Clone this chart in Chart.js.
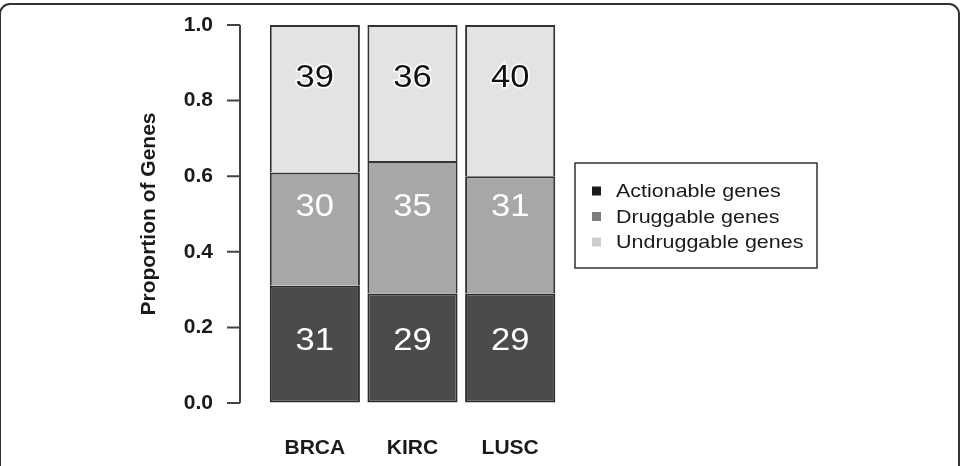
<!DOCTYPE html>
<html>
<head>
<meta charset="utf-8">
<script src="https://cdn.jsdelivr.net/npm/chart.js@4.4.1/dist/chart.umd.min.js"></script>
<style>
  html, body { margin: 0; padding: 0; background: #fff; overflow: hidden; }
  #wrap { position: relative; width: 961px; height: 466px; }
  #frame {
    position: absolute; left: -1px; top: 3px; width: 961px; height: 490px;
    border: 2px solid #333; border-radius: 11px; box-sizing: border-box; pointer-events: none;
  }
  #chart { position: absolute; left: 0; top: 0; }
</style>
</head>
<body>
<div id="wrap">
  <canvas id="chart" width="961" height="466"></canvas>
  <div id="frame"></div>
</div>
<script>
// Data <---------------------------------------------------->
const categories = ['BRCA', 'KIRC', 'LUSC'];
const actionable = [31, 29, 29];   // % of genes
const druggable = [30, 35, 31];
const undruggable = [39, 36, 40];
const yTickLabels = ['0.0', '0.2', '0.4', '0.6', '0.8', '1.0'];

const FONT = '"Liberation Sans", Arial, Helvetica, sans-serif';

// R-style y axis: line from 0 to 1 with ticks, sitting left of the bars
const rAxis = {
    id: 'rAxis',
    afterDraw(chart) {
        const ctx = chart.ctx;
        const y = chart.scales.y;
        const x = chart.chartArea.left - 26; // axis line
        ctx.save();
        ctx.strokeStyle = '#444';
        ctx.lineWidth = 2;
        ctx.beginPath();
        ctx.moveTo(x, y.getPixelForValue(0));
        ctx.lineTo(x, y.getPixelForValue(100));
        y.ticks.forEach(t => {
            const py = y.getPixelForValue(t.value);
            ctx.moveTo(x - 13, py);
            ctx.lineTo(x, py);
        });
        ctx.stroke();
        ctx.restore();
    }
};

// Numbers written inside each segment
const segmentLabels = {
    id: 'segmentLabels',
    afterDatasetsDraw(chart, args, opts) {
        const ctx = chart.ctx;
        const y = chart.scales.y;
        ctx.save();
        ctx.textAlign = 'center';
        ctx.textBaseline = 'middle';
        chart.data.datasets.forEach((ds, di) => {
            const py = y.getPixelForValue(opts.levels[di]);
            chart.getDatasetMeta(di).data.forEach((bar, i) => {
                const txt = String(ds.data[i]);
                ctx.save();
                ctx.translate(bar.x, py);
                ctx.scale(1.08, 1);
                ctx.font = '32px ' + FONT;
                if (opts.halo[di]) {
                    ctx.lineWidth = 3;
                    ctx.strokeStyle = opts.halo[di];
                    ctx.strokeText(txt, 0, 0);
                }
                ctx.fillStyle = opts.colors[di];
                ctx.fillText(txt, 0, 0);
                ctx.restore();
            });
        });
        ctx.restore();
    }
};

// Boxed legend to the right of the bars
const boxLegend = {
    id: 'boxLegend',
    afterDraw(chart, args, opts) {
        const ctx = chart.ctx;
        const area = chart.chartArea;
        const left = area.right + 16;
        const top = (area.top + area.bottom) / 2 - 51;
        const w = 242, h = 105;
        ctx.save();
        ctx.strokeStyle = '#333';
        ctx.lineWidth = 1.5;
        ctx.strokeRect(left, top, w, h);
        ctx.textBaseline = 'middle';
        ctx.textAlign = 'left';
        chart.data.datasets.forEach((ds, i) => {
            const cy = top + 28 + i * 25.5;
            ctx.fillStyle = opts.swatches[i];
            ctx.fillRect(left + 17, cy - 4.5, 9, 9);
            ctx.save();
            ctx.translate(left + 41, cy + 1);
            ctx.scale(1.13, 1);
            ctx.font = '19px ' + FONT;
            ctx.fillStyle = '#1a1a1a';
            ctx.fillText(ds.label, 0, 0);
            ctx.restore();
        });
        ctx.restore();
    }
};

const ctx = document.getElementById('chart').getContext('2d');

new Chart(ctx, {
    type: 'bar',
    data: {
        labels: categories,
        datasets: [
            {
                label: 'Actionable genes',
                data: actionable,
                backgroundColor: '#4b4b4b',
                borderColor: '#2a2a2a',
                borderWidth: 2,
                borderSkipped: false
            },
            {
                label: 'Druggable genes',
                data: druggable,
                backgroundColor: '#a7a7a7',
                borderColor: '#333',
                borderWidth: 2,
                borderSkipped: 'start'
            },
            {
                label: 'Undruggable genes',
                data: undruggable,
                backgroundColor: '#e3e3e3',
                borderColor: '#333',
                borderWidth: 2,
                borderSkipped: 'start'
            }
        ]
    },
    options: {
        responsive: false,
        animation: false,
        layout: { padding: { left: 0, right: 402, top: 25, bottom: 0 } },
        datasets: { bar: { categoryPercentage: 1, barPercentage: 0.923 } },
        scales: {
            x: {
                stacked: true,
                // invisible tick marks give the gap between bars and labels
                grid: { display: true, drawOnChartArea: false, drawTicks: true, tickLength: 33, tickColor: 'rgba(0,0,0,0)' },
                border: { display: false },
                ticks: {
                    color: '#1a1a1a',
                    font: { family: FONT, size: 21, weight: 'bold' },
                    padding: 0
                },
                afterFit(scale) { scale.height = 63; }
            },
            y: {
                stacked: true,
                min: 0,
                max: 100,
                grid: { display: true, drawOnChartArea: false, drawTicks: true, tickLength: 53, tickColor: 'rgba(0,0,0,0)' },
                border: { display: false },
                ticks: {
                    stepSize: 20,
                    color: '#1a1a1a',
                    font: { family: FONT, size: 21, weight: 'bold' },
                    padding: 0,
                    callback: (v, i) => yTickLabels[i]
                },
                title: {
                    display: true,
                    text: 'Proportion of Genes',
                    color: '#1a1a1a',
                    font: { family: FONT, size: 21, weight: 'bold' },
                    padding: { top: 137, bottom: 0 }
                },
                afterFit(scale) { scale.width = 266; }
            }
        },
        plugins: {
            legend: { display: false },
            tooltip: { enabled: false },
            segmentLabels: {
                levels: [16.3, 51.7, 86],
                colors: ['#ffffff', '#ffffff', '#111111'],
                halo: [null, null, '#ffffff']
            },
            boxLegend: {
                swatches: ['#1c1c1c', '#7d7d7d', '#cdcdcd']
            }
        }
    },
    plugins: [rAxis, segmentLabels, boxLegend]
});
</script>
</body>
</html>
